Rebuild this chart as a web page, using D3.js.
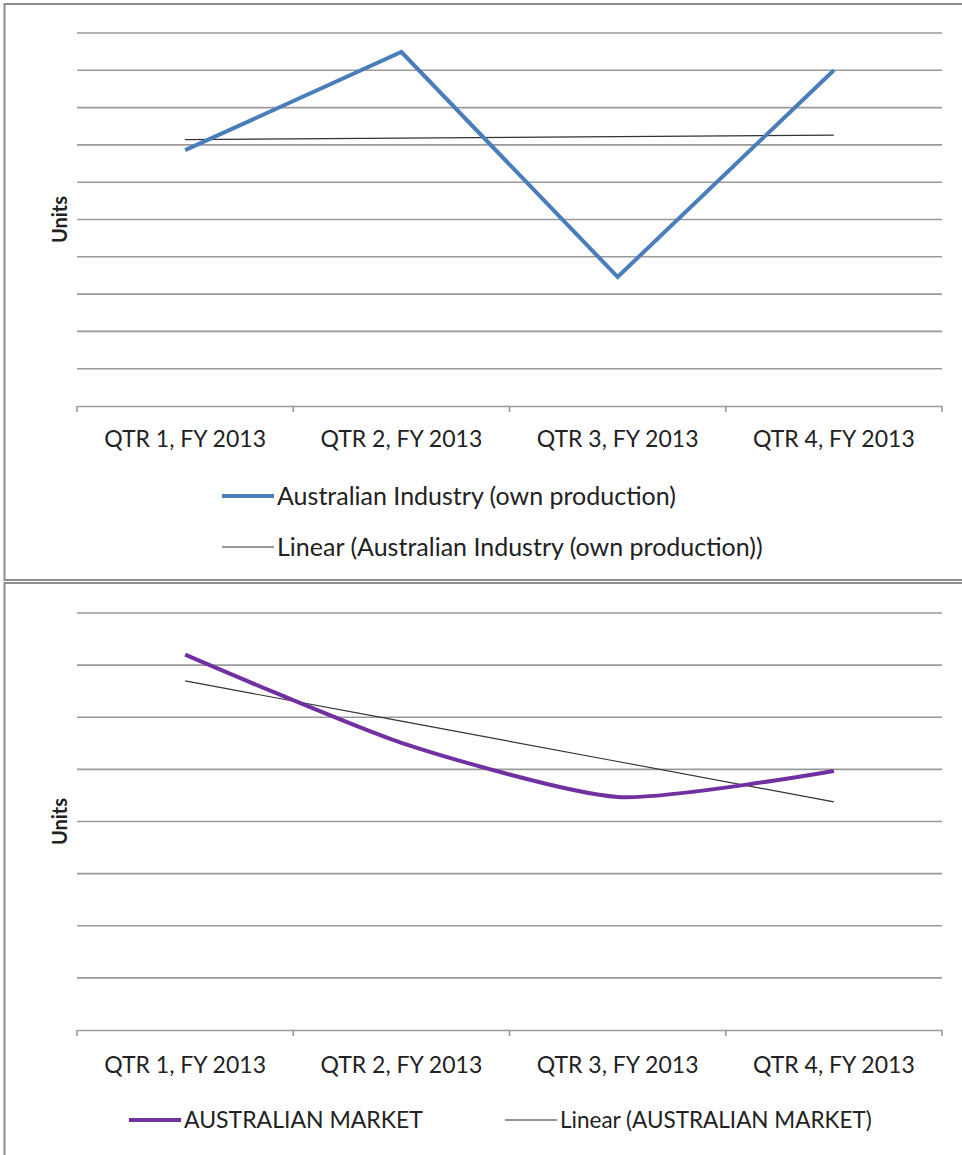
<!DOCTYPE html>
<html>
<head>
<meta charset="utf-8">
<script src="https://cdn.jsdelivr.net/npm/d3@7"></script>
<style>
  body { margin: 0; background: #fff; }
  text { font-family: Lato, "Open Sans", sans-serif; fill: #222; }
</style>
</head>
<body>
<div id="chart"></div>
<script>
const width = 962;
const height = 1155;

// data (in gridline units, no axis values shown)
const categories = ["QTR 1, FY 2013", "QTR 2, FY 2013", "QTR 3, FY 2013", "QTR 4, FY 2013"];
const industryValues = [6.86, 9.49, 3.46, 9.0];
const marketValues = [7.2, 5.51, 4.47, 4.97];
const industryGridMax = 10;
const marketGridMax = 8;

const svg = d3.select("#chart")
    .append("svg")
    .attr("width", width)
    .attr("height", height);

// least squares fit, like Excel's "Linear" trendline
function linearFit(values) {
    const n = values.length;
    const xs = d3.range(n);
    const mx = d3.mean(xs), my = d3.mean(values);
    const slope = d3.sum(xs, i => (i - mx) * (values[i] - my)) / d3.sum(xs, i => (i - mx) * (i - mx));
    return xs.map(i => my + slope * (i - mx));
}

function drawChart(cfg) {
    const g = svg.append("g");

    // chart frame
    g.append("rect")
        .attr("x", 4.5).attr("y", cfg.frameTop)
        .attr("width", width + 20).attr("height", cfg.frameBottom - cfg.frameTop)
        .attr("fill", "none")
        .attr("stroke", "#8c8c8c")
        .attr("stroke-width", 2);

    const x = d3.scaleBand()
        .domain(categories)
        .range([77, 942]);

    const y = d3.scaleLinear()
        .domain([0, cfg.gridMax])
        .range([cfg.plotBottom, cfg.plotTop]);

    // gridlines
    g.append("g")
        .selectAll("line")
        .data(d3.range(1, cfg.gridMax + 1))
        .enter()
        .append("line")
        .attr("x1", 77).attr("x2", 942)
        .attr("y1", d => y(d)).attr("y2", d => y(d))
        .attr("stroke", "#9a9a9a")
        .attr("stroke-width", 1.6);

    // category axis
    const axis = g.append("g")
        .attr("transform", `translate(0,${cfg.plotBottom})`)
        .call(d3.axisBottom(x).tickSize(0).tickSizeOuter(0).tickPadding(cfg.tickPad));
    axis.select(".domain").attr("stroke", "#9a9a9a").attr("stroke-width", 1.6);
    axis.selectAll("text")
        .style("font-size", "23px")
        .style("font-family", "Lato, sans-serif")
        .attr("fill", "#222");

    // tick marks between categories
    const bounds = categories.map(c => x(c)).concat([x.range()[1]]);
    axis.selectAll(".sep")
        .data(bounds)
        .enter()
        .append("line")
        .attr("x1", d => d).attr("x2", d => d)
        .attr("y1", 0).attr("y2", 6)
        .attr("stroke", "#9a9a9a")
        .attr("stroke-width", 1.6);

    const cx = d => x(d) + x.bandwidth() / 2;

    // trendline
    const trend = linearFit(cfg.values);
    g.append("path")
        .datum(trend)
        .attr("fill", "none")
        .attr("stroke", "#333")
        .attr("stroke-width", 1.2)
        .attr("d", d3.line().x((d, i) => cx(categories[i])).y(d => y(d)));

    // series
    g.append("path")
        .datum(cfg.values)
        .attr("fill", "none")
        .attr("stroke", cfg.color)
        .attr("stroke-width", 4)
        .attr("stroke-linejoin", "miter")
        .attr("d", d3.line()
            .x((d, i) => cx(categories[i]))
            .y(d => y(d))
            .curve(cfg.curve));

    // y label
    g.append("text")
        .text("Units")
        .attr("transform", `translate(67,${(cfg.plotTop + cfg.plotBottom) / 2}) rotate(-90)`)
        .style("text-anchor", "middle")
        .style("font-size", "20px")
        .style("font-weight", "bold")
        .attr("fill", "#000");

    // legend
    cfg.legend.forEach(item => {
        g.append("line")
            .attr("x1", item.x).attr("x2", item.x + 52)
            .attr("y1", item.y).attr("y2", item.y)
            .attr("stroke", item.color)
            .attr("stroke-width", item.w);
        g.append("text")
            .text(item.label)
            .attr("x", item.x + 55)
            .attr("y", item.y)
            .attr("dy", "0.35em")
            .style("font-size", item.size + "px");
    });
}

drawChart({
    frameTop: 4, frameBottom: 580,
    plotTop: 33, plotBottom: 406,
    tickPad: 25,
    gridMax: industryGridMax,
    values: industryValues,
    color: "#4a7ebb",
    curve: d3.curveLinear,
    legend: [
        { x: 222, y: 496, color: "#4a7ebb", w: 4, size: 25, label: "Australian Industry (own production)" },
        { x: 222, y: 547, color: "#333", w: 1.2, size: 25, label: "Linear (Australian Industry (own production))" }
    ]
});

drawChart({
    frameTop: 583, frameBottom: 1170,
    plotTop: 613, plotBottom: 1030,
    tickPad: 27,
    gridMax: marketGridMax,
    values: marketValues,
    color: "#7030a0",
    curve: d3.curveCardinal.tension(0.35),
    legend: [
        { x: 129, y: 1120, color: "#7030a0", w: 4, size: 23, label: "AUSTRALIAN MARKET" },
        { x: 505, y: 1120, color: "#333", w: 1.2, size: 22.5, label: "Linear (AUSTRALIAN MARKET)" }
    ]
});
</script>
</body>
</html>
